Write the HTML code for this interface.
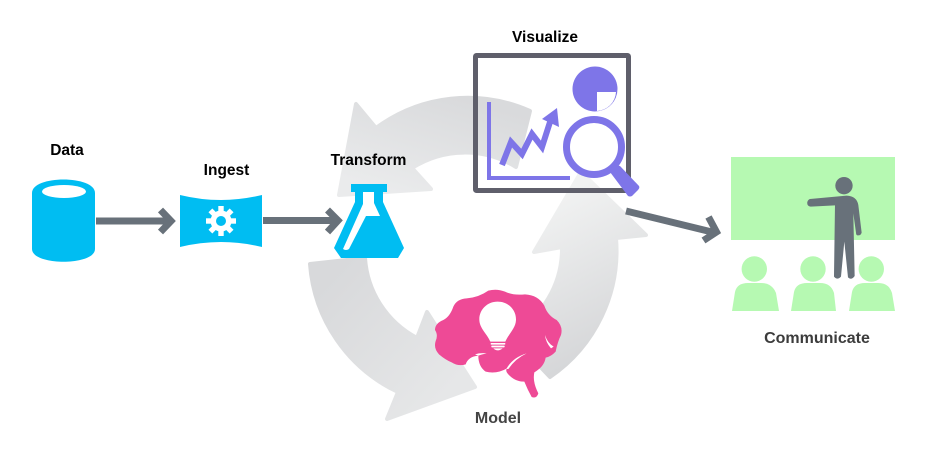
<!DOCTYPE html>
<html><head><meta charset="utf-8"><style>
html,body{margin:0;padding:0;background:#fff;width:950px;height:456px;overflow:hidden}
svg{display:block}
text{font-family:"Liberation Sans",sans-serif;font-weight:700;font-size:15.5px;text-anchor:middle}
</style></head><body>
<svg width="950" height="456" viewBox="0 0 950 456" xmlns="http://www.w3.org/2000/svg">
<defs>
<linearGradient id="g1" gradientUnits="userSpaceOnUse" x1="450" y1="95" x2="420" y2="200"><stop offset="0" stop-color="#d9dadc"/><stop offset="1" stop-color="#eaebec"/></linearGradient>
<linearGradient id="g2" gradientUnits="userSpaceOnUse" x1="320" y1="290" x2="440" y2="400"><stop offset="0" stop-color="#d8d9db"/><stop offset="1" stop-color="#e6e7e8"/></linearGradient>
<linearGradient id="g3" gradientUnits="userSpaceOnUse" x1="620" y1="340" x2="550" y2="200"><stop offset="0" stop-color="#d6d7d9"/><stop offset="1" stop-color="#f1f2f2"/></linearGradient>
</defs>
<!-- cycle arrows -->
<path d="M530,111 A154 154 0 0 0 376,128 L356,104 L339,195 L431,189 L412,168 A98 98 0 0 1 516,167 Z" fill="url(#g1)" stroke="url(#g1)" stroke-width="4" stroke-linejoin="round"/>
<path d="M310,264 L365,258 A98 98 0 0 0 417,338 L427,312 L475,387 L387,419 L398,392 A154 154 0 0 1 310,264 Z" fill="url(#g2)" stroke="url(#g2)" stroke-width="4" stroke-linejoin="round"/>
<path d="M550,377 A153 153 0 0 0 616,238 L646,235 L581,172 L534,252 L562,247 A98 98 0 0 1 510,335 Z" fill="url(#g3)" stroke="url(#g3)" stroke-width="4" stroke-linejoin="round"/>
<!-- Data -->
<path d="M32,193 C32,175 95,175 95,193 V249 C95,266 32,266 32,249 Z" fill="#00bdf2"/>
<ellipse cx="64" cy="191.5" rx="22" ry="6.5" fill="#fff"/>
<!-- connectors -->
<g fill="none" stroke="#68717a" stroke-width="7">
<path d="M96,221 H170"/><path d="M160.5,210 L171,221 L160.5,232"/>
<path d="M263,220.5 H337"/><path d="M327.5,210 L338,220.5 L327.5,232"/>
<path d="M626,211 L714,232.5"/><path d="M708.5,217 L716.5,232 L703.5,240.5"/>
</g>
<!-- Ingest -->
<path d="M180,195 Q221,205 262,195 V247 Q221,237 180,247 Z" fill="#00bdf2"/>
<g transform="translate(221,221)" fill="#fff">
<rect x="-2.7" y="-15" width="5.4" height="30"/><rect x="-2.7" y="-15" width="5.4" height="30" transform="rotate(45)"/><rect x="-2.7" y="-15" width="5.4" height="30" transform="rotate(90)"/><rect x="-2.7" y="-15" width="5.4" height="30" transform="rotate(135)"/>
<circle r="10.5"/><circle r="5" fill="#00bdf2"/>
</g>
<!-- Flask -->
<path d="M351,184 H387 V192 H383 V202 L404,248 L398,258 H341 L334,248 L355,202 V192 H351 Z" fill="#00bdf2"/>
<path d="M363,192 H374 V203 L380,216 H366 L349,249 Q346,251 343,249 L363,204 Z" fill="#fff"/>
<!-- Visualize box -->
<rect x="475.5" y="55.5" width="153" height="135" rx="1" fill="none" stroke="#5f5f6b" stroke-width="5"/>
<path d="M489,102 V178 H570" fill="none" stroke="#7e75e8" stroke-width="4"/>
<path d="M502,165 L511,142 L522,154 L532,134 L542,147 L550,122" fill="none" stroke="#7e75e8" stroke-width="6" stroke-miterlimit="10"/>
<path d="M557,108 L559,127 L542,119 Z" fill="#7e75e8"/>
<circle cx="595" cy="89" r="22.5" fill="#7e75e8"/>
<path d="M597,92 H616 A20 20 0 0 1 597,111 Z" fill="#fff"/>
<circle cx="594" cy="147" r="27.5" fill="#fff" stroke="#7e75e8" stroke-width="7"/>
<path d="M613,164 L620,166 L639,186 Q640,188 638,190 L632,196 Q630,197 628,196 L610,172 Z" fill="#7e75e8"/>
<!-- Communicate -->
<rect x="731" y="157" width="164" height="83" fill="#b6f9b2"/>
<g fill="#b6f9b2">
<circle cx="754.3" cy="269" r="12.7"/><circle cx="813" cy="269" r="12.7"/><circle cx="871.3" cy="269" r="12.7"/>
<path d="M732,311 L735,292 Q737,283 748,283 H761 Q772,283 776,293 L779,311 Z"/>
<path d="M791,311 L794,292 Q796,283 807,283 H820 Q831,283 834,293 L836,311 Z"/>
<path d="M849,311 L852,292 Q854,283 865,283 H878 Q889,283 892,293 L895,311 Z"/>
</g>
<g transform="translate(700,150) scale(.3333)" fill="#68717a">
<circle cx="432" cy="107" r="26"/>
<path d="M330,147 L440,137 Q470,138 475,165 L485,248 Q482,258 472,256 Q468,255 468,248 L460,190 L464,378 Q455,392 444,382 L433,275 L423,380 Q412,392 402,380 L405,166 L332,170 Q320,168 322,156 Q324,149 330,147 Z"/>
</g>
<!-- Brain -->
<g transform="translate(425,285) scale(.3333)">
<path d="M85,65 Q95,42 125,40 Q160,38 190,17 Q215,10 240,20 Q265,32 300,28 Q340,30 358,62 Q368,92 395,105 Q415,125 408,150 Q398,170 392,200 Q378,215 362,218 Q358,245 328,262 Q322,290 340,325 Q335,342 320,336 Q308,315 298,290 Q270,290 250,268 Q240,258 246,250 Q215,268 182,260 Q160,245 160,212 Q130,215 122,238 Q100,245 80,232 Q62,225 42,208 Q25,190 32,168 Q40,150 30,135 Q30,115 55,105 Q75,95 85,65 Z" fill="#ee4a96"/>
<path d="M244,252 Q262,218 305,205 Q272,220 250,252 Z" fill="#fff"/>
<path d="M150,208 Q165,203 185,205 Q170,208 160,212 Z" fill="#fff"/>
<path d="M360,150 Q368,175 386,185 L378,190 Q362,172 360,150 Z" fill="#fff"/>
<path d="M218,50 C250,50 274,75 273,105 C272,130 252,145 241,170 H196 C185,145 164,130 163,105 C162,75 186,50 218,50 Z" fill="#fff"/>
<rect x="197" y="174" width="44" height="5" rx="2" fill="#fff"/><rect x="199" y="182" width="40" height="5" rx="2" fill="#fff"/><path d="M205,190 H233 Q225,196 219,196 Q211,196 205,190 Z" fill="#fff"/>
</g>
<!-- Labels -->
<text x="67" y="155" fill="#000">Data</text>
<text x="226.5" y="175" fill="#000">Ingest</text>
<text x="368.5" y="165" fill="#000">Transform</text>
<text x="545" y="42" fill="#000">Visualize</text>
<text x="817" y="343" fill="#3c3c3c" style="font-size:16px">Communicate</text>
<text x="498" y="423" fill="#444" style="font-size:16px">Model</text>
</svg>
</body></html>
